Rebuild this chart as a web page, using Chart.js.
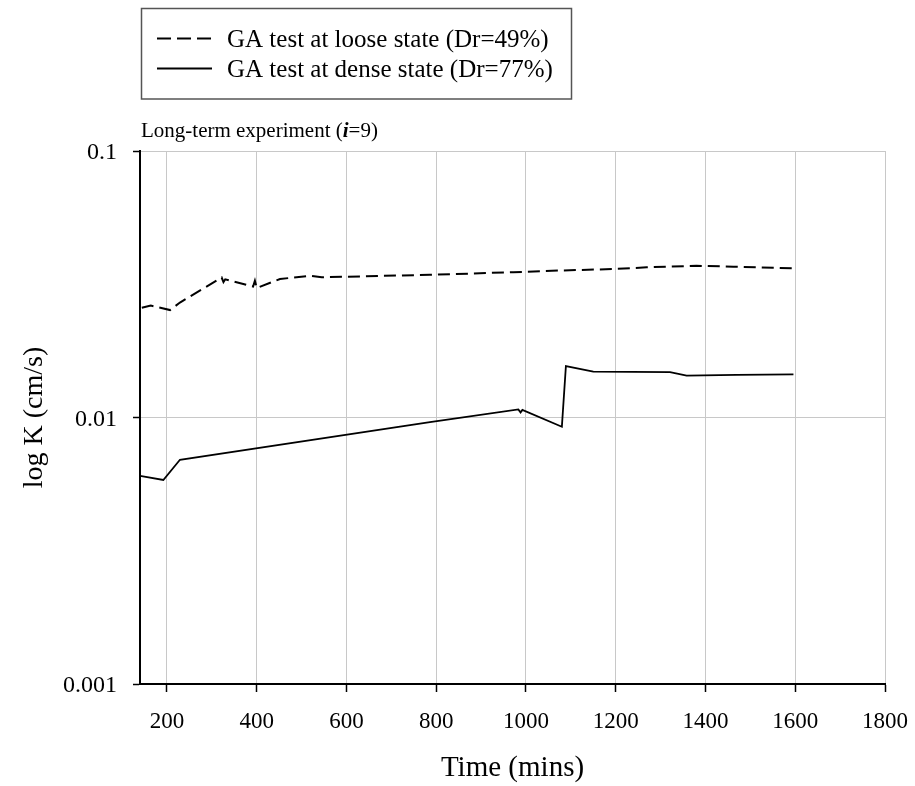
<!DOCTYPE html>
<html>
<head>
<meta charset="utf-8">
<script src="https://cdn.jsdelivr.net/npm/chart.js@4.4.1/dist/chart.umd.min.js"></script>
<style>
  html, body { margin: 0; padding: 0; background: #ffffff; }
  #wrap { width: 915px; height: 786px; }
</style>
</head>
<body>
<div id="wrap"><canvas id="chart" width="915" height="786"></canvas></div>
<script>
// Hydraulic conductivity over time, long-term GA tests (i = 9)
const looseLabel = 'GA test at loose state (Dr=49%)';
const denseLabel = 'GA test at dense state (Dr=77%)';

const looseTime = [144, 164, 207, 229, 322, 326, 330, 392, 396, 400, 452, 519, 545, 786, 972, 1076, 1202, 1269, 1380, 1462, 1596];
const looseK    = [0.0258, 0.0263, 0.0253, 0.0270, 0.0335, 0.0322, 0.0330, 0.0310, 0.0326, 0.0306, 0.0331, 0.0340, 0.0336, 0.0343, 0.0351, 0.0356, 0.0361, 0.0366, 0.0371, 0.0368, 0.0363];

const denseTime = [140, 192, 229, 786, 983, 988, 992, 1080, 1089, 1150, 1321, 1358, 1469, 1596];
const denseK    = [0.00604, 0.00583, 0.00694, 0.00960, 0.01073, 0.01045, 0.01068, 0.00923, 0.01560, 0.01486, 0.01479, 0.01436, 0.01445, 0.01452];

const timeTicks = [200, 400, 600, 800, 1000, 1200, 1400, 1600, 1800];
const kTicks = [0.001, 0.01, 0.1];
const kTickLabels = ['0.001', '0.01', '0.1'];

const SERIF = '"Liberation Serif", "Times New Roman", Times, serif';

const toPoints = (xs, ys) => xs.map((x, i) => ({ x: x, y: ys[i] }));

// Boxed legend and the caption above the plot
const annotations = {
  id: 'annotations',
  afterDraw(chart) {
    const ctx = chart.ctx;
    ctx.save();

    // legend frame
    ctx.strokeStyle = '#555555';
    ctx.lineWidth = 1.5;
    ctx.strokeRect(141.5, 8.5, 430, 90.5);

    const rows = [47, 77];
    chart.data.datasets.forEach((ds, i) => {
      const y = rows[i] - 8.5;
      ctx.beginPath();
      ctx.setLineDash(ds.borderDash && ds.borderDash.length ? [14, 6] : []);
      ctx.strokeStyle = '#000';
      ctx.lineWidth = 2;
      ctx.moveTo(157, y);
      ctx.lineTo(212, y);
      ctx.stroke();
      ctx.setLineDash([]);
      ctx.fillStyle = '#000';
      ctx.font = '25px ' + SERIF;
      ctx.textBaseline = 'alphabetic';
      ctx.textAlign = 'left';
      ctx.fillText(ds.label, 227, rows[i]);
    });

    // caption with bold-italic i
    const parts = [
      { t: 'Long-term experiment (', f: '21px ' + SERIF },
      { t: 'i', f: 'italic bold 21px ' + SERIF },
      { t: '=9)', f: '21px ' + SERIF }
    ];
    let x = 141;
    parts.forEach(p => {
      ctx.font = p.f;
      ctx.fillText(p.t, x, 137);
      x += ctx.measureText(p.t).width;
    });
    ctx.restore();
  }
};

new Chart(document.getElementById('chart'), {
  type: 'line',
  data: {
    datasets: [
      {
        label: looseLabel,
        data: toPoints(looseTime, looseK),
        borderColor: '#000000',
        borderWidth: 2,
        borderDash: [12, 6],
        pointRadius: 0,
        tension: 0,
        fill: false
      },
      {
        label: denseLabel,
        data: toPoints(denseTime, denseK),
        borderColor: '#000000',
        borderWidth: 1.8,
        pointRadius: 0,
        tension: 0,
        fill: false
      }
    ]
  },
  options: {
    responsive: false,
    animation: false,
    devicePixelRatio: 1,
    layout: { padding: { top: 151, right: 30, bottom: 0, left: 0 } },
    plugins: {
      legend: { display: false },
      title: { display: false },
      tooltip: { enabled: false }
    },
    scales: {
      x: {
        type: 'linear',
        min: 140,
        max: 1800,
        afterBuildTicks: s => { s.ticks = timeTicks.map(v => ({ value: v })); },
        afterFit: s => { s.height = 102; s.paddingLeft = 0; s.paddingRight = 0; },
        ticks: {
          autoSkip: false,
          maxRotation: 0,
          color: '#000',
          padding: 16,
          font: { family: SERIF, size: 23 },
          callback: (v) => String(v)
        },
        grid: {
          color: '#c8c8c8',
          lineWidth: 1,
          tickLength: 8,
          tickColor: '#000',
          tickWidth: 1.5
        },
        border: { color: '#000', width: 2 },
        title: {
          display: true,
          text: 'Time (mins)',
          color: '#000',
          font: { family: SERIF, size: 29 },
          padding: { top: 0, bottom: 0 }
        }
      },
      y: {
        type: 'logarithmic',
        min: 0.001,
        max: 0.1,
        afterBuildTicks: s => { s.ticks = kTicks.map(v => ({ value: v })); },
        afterFit: s => { s.width = 140; s.paddingTop = 0; s.paddingBottom = 0; },
        ticks: {
          autoSkip: false,
          color: '#000',
          padding: 16,
          labelOffset: 2,
          font: { family: SERIF, size: 24 },
          callback: (v) => kTickLabels[kTicks.indexOf(v)] ?? String(v)
        },
        grid: {
          color: '#c8c8c8',
          lineWidth: 1,
          tickLength: 7,
          tickColor: '#000',
          tickWidth: 1.5
        },
        border: { color: '#000', width: 2 },
        title: {
          display: true,
          text: 'log K (cm/s)',
          color: '#000',
          font: { family: SERIF, size: 28 },
          padding: { top: 18, bottom: 0 }
        }
      }
    }
  },
  plugins: [annotations]
});
</script>
</body>
</html>
